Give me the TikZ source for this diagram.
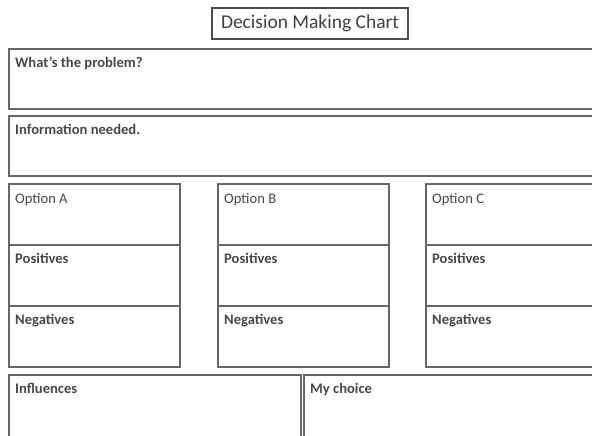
\documentclass[tikz,border=0pt]{standalone}
\usepackage{fontspec}
\setmainfont{Carlito}
\usetikzlibrary{positioning}

\tikzset{
  cell/.style={draw=black!60, line width=1.6pt, outer sep=0pt, inner sep=0pt, anchor=north west},
  tag/.style={font=\fontsize{14.6}{16}\selectfont\bfseries, text=black!72, inner sep=0pt, anchor=base west},
  opttag/.style={tag, font=\fontsize{14.6}{16}\selectfont},
}

\begin{document}
\begin{tikzpicture}[x=1pt, y=-1pt]
    \clip (0,0) rectangle (592,436);
    % title
    \node[draw=black!70, line width=1.1pt, minimum width=196pt, minimum height=31pt,
          font=\fontsize{19.5}{22}\selectfont, text=black!75] (title) at (310,23.5) {Decision Making Chart};
    % top rows
    \node[cell, minimum width=600pt, minimum height=60pt] (problem) at (9,49) {};
    \node[tag] (problemtag) at ([xshift=6pt, yshift=-18pt]problem.north west) {What's the problem?};
    \node[cell, minimum width=600pt, minimum height=60pt] (info) at (9,116) {};
    \node[tag] (infotag) at ([xshift=6pt, yshift=-18pt]info.north west) {Information needed.};
    % option columns
    \foreach \opt/\x in {A/9, B/218, C/426} {
        \node[cell, minimum width=171pt, minimum height=61pt] (opt\opt) at (\x,184) {};
        \node[opttag] at ([xshift=6pt, yshift=-19pt]opt\opt.north west) {Option \opt};
        \node[cell, minimum width=171pt, minimum height=61pt] (pos\opt) at (\x,245) {};
        \node[tag] at ([xshift=6pt, yshift=-18pt]pos\opt.north west) {Positives};
        \node[cell, minimum width=171pt, minimum height=61pt] (neg\opt) at (\x,306) {};
        \node[tag] at ([xshift=6pt, yshift=-18pt]neg\opt.north west) {Negatives};
    }
    % bottom row
    \node[cell, minimum width=292pt, minimum height=70pt] (influence) at (9,375) {};
    \node[tag] (influencetag) at ([xshift=6pt, yshift=-18pt]influence.north west) {Influences};
    \node[cell, minimum width=300pt, minimum height=70pt] (choice) at (304,375) {};
    \node[tag] (choicetag) at ([xshift=6pt, yshift=-18pt]choice.north west) {My choice};
\end{tikzpicture}
\end{document}
